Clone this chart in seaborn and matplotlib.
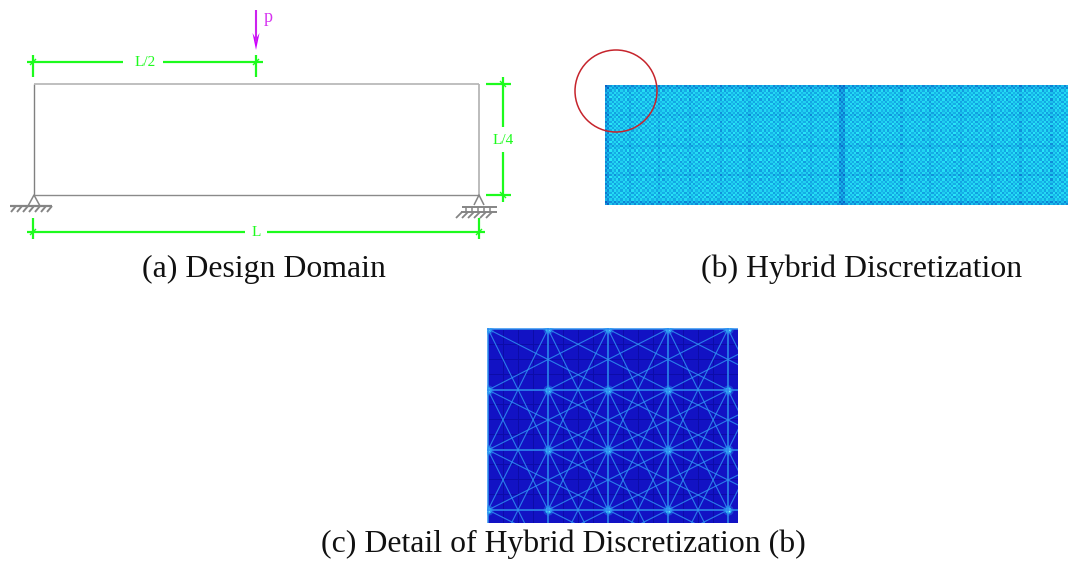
# hybrid discretization figure, pixel layout
import numpy as np
import matplotlib
matplotlib.use("Agg")
import matplotlib.pyplot as plt
import seaborn as sns
from matplotlib.colors import LinearSegmentedColormap
from matplotlib.patches import Circle, Polygon, Rectangle

W, H = 1068, 562
GREEN = "#1dfb1d"

# panel (a)
beam_x = [34, 479]
beam_y = [84, 195]
dim_top_y = 62
dim_top_x = [33, 123, 163, 257]
dim_bottom_y = 232
dim_bottom_x = [33, 245, 267, 479]
dim_right_x = 503
dim_right_y = [84, 127, 152, 195]
load_x = 256
load_y = [10, 50]
# panel (b)
mesh_box = [605, 85, 1068, 205]
mesh_tile = [[0.45, 0.80, 0.55, 0.90],
             [0.85, 0.50, 0.98, 0.60],
             [0.55, 0.92, 0.42, 0.80],
             [0.88, 0.60, 0.82, 0.50]]
mesh_dark_cols = [631, 660, 690, 720, 750, 780, 810, 870, 900, 930, 960, 990, 1020, 1050]
mesh_dark_rows = [115, 145, 175]
circle_xy = (616, 91)
circle_r = 41
# panel (c)
detail_box = [487, 328, 738, 523]
node_x = [488, 548, 608, 668, 728, 788]
node_y = [329, 390, 450, 510, 570]
bar_offsets = [(1, 0), (0, 1), (1, 2), (1, -2), (2, 1), (2, -1)]
cell_px = 15

captions = [("(a) Design Domain", 263.5, 277),
            ("(b) Hybrid Discretization", 862, 277),
            ("(c) Detail of Hybrid Discretization (b)", 563, 552)]

plt.rcParams["font.family"] = ["Liberation Serif", "DejaVu Serif"]
fig = plt.figure(figsize=(W / 100, H / 100), dpi=100)


def px_axes(box, zorder=0):
    x0, y0, x1, y1 = box
    return fig.add_axes([x0 / W, 1 - y1 / H, (x1 - x0) / W, (y1 - y0) / H], zorder=zorder)


# (b) woven mesh as a heatmap, one cell about 2.2 px
rows = int((mesh_box[3] - mesh_box[1]) / 2.2)
cols = int((mesh_box[2] - mesh_box[0]) / 2.2)
mesh = np.tile(np.array(mesh_tile), (rows // 4 + 1, cols // 4 + 1))[:rows, :cols]
for c in mesh_dark_cols:
    mesh[:, int((c - mesh_box[0]) / 2.2)] -= 0.12
for r in mesh_dark_rows:
    mesh[int((r - mesh_box[1]) / 2.2), :] -= 0.12
mesh[:2, :] -= 0.22
mesh[-2:, :] -= 0.22
mesh[:, :2] -= 0.28
band = int((841 - mesh_box[0]) / 2.2)
mesh[:, band - 1:band + 2] -= 0.3
mesh_cmap = LinearSegmentedColormap.from_list("mesh", ["#0a62c8", "#12a8e4", "#28e8f8"])
ax_b = px_axes(mesh_box)
sns.heatmap(mesh, ax=ax_b, cmap=mesh_cmap, vmin=0, vmax=1, cbar=False,
            xticklabels=False, yticklabels=False)

# (c) blue background with the dark element grid
ax_c = px_axes(detail_box)
n_cols = int((detail_box[2] - detail_box[0]) / cell_px) + 2
n_rows = int((detail_box[3] - detail_box[1]) / cell_px) + 2
sns.heatmap(np.zeros((n_rows, n_cols)), ax=ax_c, cmap=["#1212c4"], cbar=False,
            linewidths=0.4, linecolor="#0c0ca8", xticklabels=False, yticklabels=False)
ax_c.set_xlim(-0.07, (detail_box[2] - detail_box[0]) / cell_px - 0.07)
ax_c.set_ylim((detail_box[3] - detail_box[1]) / cell_px - 0.07, -0.07)

# everything else in pixel coordinates on a clear overlay
ax = fig.add_axes([0, 0, 1, 1], zorder=5)
ax.set_xlim(0, W)
ax.set_ylim(H, 0)
ax.axis("off")


def seg(xs, ys, color=GREEN, lw=1.6, **kw):
    ax.plot(xs, ys, color=color, lw=lw, solid_capstyle="butt", **kw)


# beam
seg([beam_x[0], beam_x[0]], beam_y, color="#808080", lw=1.0)
seg([beam_x[1], beam_x[1]], beam_y, color="#b0b0b0", lw=1.2)
seg(beam_x, [beam_y[0], beam_y[0]], color="#b4b4b4", lw=1.2)
seg(beam_x, [beam_y[1], beam_y[1]], color="#8a8a8a", lw=1.0)

# dimensions
seg([dim_top_x[0] - 6, dim_top_x[1]], [dim_top_y] * 2)
seg([dim_top_x[2], dim_top_x[3] + 6], [dim_top_y] * 2)
seg([dim_bottom_x[0] - 6, dim_bottom_x[1]], [dim_bottom_y] * 2)
seg([dim_bottom_x[2], dim_bottom_x[3] + 6], [dim_bottom_y] * 2)
seg([dim_right_x] * 2, [dim_right_y[0] - 7, dim_right_y[1]])
seg([dim_right_x] * 2, [dim_right_y[2], dim_right_y[3] + 7])
for x in dim_top_x[0], dim_top_x[3] - 1:
    seg([x, x], [dim_top_y - 7, dim_top_y + 15])
    seg([x - 3, x + 3], [dim_top_y + 3, dim_top_y - 3], lw=1.0)
for x in dim_bottom_x[0], dim_bottom_x[3]:
    seg([x, x], [dim_bottom_y - 14, dim_bottom_y + 7])
    seg([x - 3, x + 3], [dim_bottom_y + 3, dim_bottom_y - 3], lw=1.0)
for y in dim_right_y[0], dim_right_y[3]:
    seg([dim_right_x - 17, dim_right_x + 8], [y, y])
    seg([dim_right_x - 3, dim_right_x + 3], [y - 3, y + 3], lw=1.0)

label_kw = dict(color=GREEN, fontsize=11, ha="center", va="center")
ax.text(145, 62.5, "L/2", **label_kw)
ax.text(256, 233, "L", **label_kw)
ax.text(503, 140, "L/4", **label_kw)

# load
seg([load_x, load_x], [load_y[0], load_y[1] - 8], color="#cc22ee", lw=1.5)
ax.add_patch(Polygon([[load_x - 3.5, load_y[1] - 17], [load_x, load_y[1] - 11], [load_x + 3.5, load_y[1] - 17],
                      [load_x, load_y[1]]], closed=True, color="#cc00ff", lw=0))
ax.text(268, 18, "p", color="#d633f0", fontsize=13, ha="center", va="center")

# supports
sup = "#858585"
seg([28, 34, 40], [206, 195, 206], color=sup, lw=1.1)
seg([10, 52], [206, 206], color=sup, lw=1.6)
for x in range(16, 53, 6):
    seg([x, x - 5], [206, 212], color=sup, lw=1.4)
seg([474, 479, 484], [205, 195, 205], color=sup, lw=1.1)
seg([462, 497], [206.5, 206.5], color=sup, lw=1.4)
seg([461, 497], [212, 212], color=sup, lw=1.4)
for x in range(466, 496, 6):
    seg([x, x], [207, 212], color=sup, lw=1.1)
for x in range(462, 498, 6):
    seg([x, x - 6], [212, 218], color=sup, lw=1.3)

# ground structure bars of the detail view
clip = Rectangle((detail_box[0], detail_box[1]), detail_box[2] - detail_box[0], detail_box[3] - detail_box[1],
                 transform=ax.transData)
for i, x in enumerate(node_x):
    for j, y in enumerate(node_y):
        for di, dj in bar_offsets:
            if 0 <= i + di < len(node_x) and 0 <= j + dj < len(node_y):
                straight = di == 0 or dj == 0
                line, = ax.plot([x, node_x[i + di]], [y, node_y[j + dj]], color="#2f90f2",
                                lw=1.1 if straight else 0.8, alpha=1 if straight else 0.85)
                line.set_clip_path(clip)
xx = [x for x in node_x for y in node_y]
yy = [y for x in node_x for y in node_y]
for size, col, a in [(55, "#2a8cf0", 0.4), (22, "#25c8f5", 0.9), (8, "#8ff8ff", 1)]:
    pts = ax.scatter(xx, yy, s=size, color=col, alpha=a, lw=0)
    pts.set_clip_path(clip)

# red circle over the mesh corner
ax.add_patch(Circle(circle_xy, circle_r, fill=False, ec="#c6242c", lw=1.1))

for text, x, y in captions:
    ax.text(x, y, text, fontsize=22.9, color="#111111", ha="center", va="baseline")

fig.savefig("out.png", dpi=100)
